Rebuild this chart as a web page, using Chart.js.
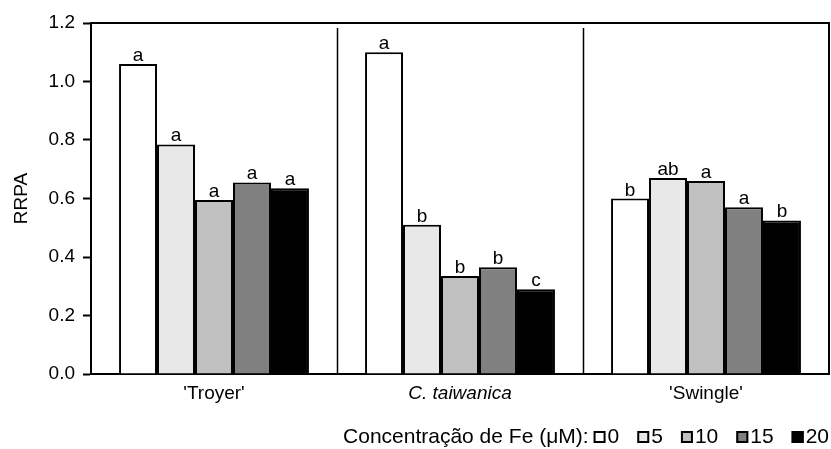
<!DOCTYPE html>
<html>
<head>
<meta charset="utf-8">
<script src="https://cdn.jsdelivr.net/npm/chart.js@4.4.1/dist/chart.umd.min.js"></script>
<style>
  html, body { margin: 0; padding: 0; background: #fff; }
  #wrap { width: 831px; height: 449px; }
</style>
</head>
<body>
<div id="wrap"><canvas id="chart" width="831" height="449"></canvas></div>
<script>
/* ---------- data ---------- */
const CATEGORIES = ["'Troyer'", 'C. taiwanica', "'Swingle'"];
const FE_LEVELS  = ['0', '5', '10', '15', '20'];

const FE_0  = [1.06, 1.10, 0.60];
const FE_5  = [0.785, 0.51, 0.67];
const FE_10 = [0.595, 0.335, 0.66];
const FE_15 = [0.655, 0.365, 0.57];
const FE_20 = [0.635, 0.29, 0.525];

// significance letters, per Fe level, per rootstock
const LET_0  = ['a', 'a', 'b'];
const LET_5  = ['a', 'b', 'ab'];
const LET_10 = ['a', 'b', 'a'];
const LET_15 = ['a', 'b', 'a'];
const LET_20 = ['a', 'c', 'b'];

const Y_TICKS = [0, 0.2, 0.4, 0.6, 0.8, 1.0, 1.2];

const FILLS  = ['#ffffff', '#e8e8e8', '#c0c0c0', '#808080', '#000000'];
const FONT   = "'Liberation Sans', Arial, sans-serif";
const FSIZE  = 19;

const SERIES  = [FE_0, FE_5, FE_10, FE_15, FE_20];
const LETTERS = [LET_0, LET_5, LET_10, LET_15, LET_20];

/* ---------- plugins ---------- */
// box round the plot + separators between rootstocks
const framePlugin = {
  id: 'frame',
  afterDraw(chart) {
    const { ctx, chartArea: a, scales: { x } } = chart;
    ctx.save();
    ctx.strokeStyle = '#000';
    ctx.lineWidth = 2;
    ctx.beginPath();
    ctx.moveTo(a.left, a.top);
    ctx.lineTo(a.right, a.top);
    ctx.lineTo(a.right, a.bottom);
    ctx.stroke();

    ctx.lineWidth = 1.5;
    for (let i = 0; i < CATEGORIES.length - 1; i++) {
      const sx = Math.round((x.getPixelForValue(i) + x.getPixelForValue(i + 1)) / 2) + 0.5;
      ctx.beginPath();
      ctx.moveTo(sx, a.top + 5);
      ctx.lineTo(sx, a.bottom);
      ctx.stroke();
    }
    ctx.restore();
  }
};

// letters above each bar
const lettersPlugin = {
  id: 'letters',
  afterDatasetsDraw(chart) {
    const { ctx } = chart;
    ctx.save();
    ctx.fillStyle = '#000';
    ctx.font = FSIZE + 'px ' + FONT;
    ctx.textAlign = 'center';
    ctx.textBaseline = 'alphabetic';
    chart.data.datasets.forEach((ds, di) => {
      chart.getDatasetMeta(di).data.forEach((bar, i) => {
        ctx.fillText(LETTERS[di][i], bar.x, bar.y - 3);
      });
    });
    ctx.restore();
  }
};

// legend line at the bottom right
const legendPlugin = {
  id: 'feLegend',
  afterDraw(chart) {
    const { ctx, chartArea: a } = chart;
    const title = 'Concentração de Fe (\u03bcM):';
    const box = 12, gapBox = 2, gapItem = 18, y = 437;
    ctx.save();
    ctx.font = '21px ' + FONT;
    ctx.textBaseline = 'middle';
    const tw = ctx.measureText(title).width;
    let total = tw;
    const widths = chart.data.datasets.map(ds => box + gapBox + ctx.measureText(ds.label).width);
    widths.forEach((w, i) => total += (i === 0 ? 5 : gapItem) + w);
    let cx = a.right - total;
    ctx.fillStyle = '#000';
    ctx.fillText(title, cx, y);
    cx += tw;
    chart.data.datasets.forEach((ds, i) => {
      cx += (i === 0 ? 5 : gapItem);
      ctx.fillStyle = ds.backgroundColor;
      ctx.fillRect(cx, y - box / 2, box, box);
      ctx.strokeStyle = '#000';
      ctx.lineWidth = 2;
      ctx.strokeRect(cx + 1, y - box / 2 + 1, box - 2, box - 2);
      ctx.fillStyle = '#000';
      ctx.fillText(ds.label, cx + box + gapBox, y);
      cx += widths[i];
    });
    ctx.restore();
  }
};

/* ---------- chart ---------- */
new Chart(document.getElementById('chart').getContext('2d'), {
  type: 'bar',
  data: {
    labels: CATEGORIES,
    datasets: SERIES.map((vals, i) => ({
      label: FE_LEVELS[i],
      data: vals,
      backgroundColor: FILLS[i],
      borderColor: '#000',
      borderWidth: 2,
      categoryPercentage: 0.772,
      barPercentage: 1.0
    }))
  },
  options: {
    responsive: false,
    animation: false,
    events: [],
    layout: { padding: { top: 23, right: 2, left: 0, bottom: 0 } },
    plugins: { legend: { display: false }, tooltip: { enabled: false } },
    scales: {
      x: {
        grid: { display: false, drawTicks: false },
        border: { display: true, color: '#000', width: 2 },
        ticks: {
          color: '#000',
          padding: 8,
          font: ctx => ({ family: FONT, size: FSIZE, style: ctx.index === 1 ? 'italic' : 'normal' })
        },
        afterFit: s => { s.height = 75; }
      },
      y: {
        min: 0,
        max: 1.2,
        afterBuildTicks: s => { s.ticks = Y_TICKS.map(v => ({ value: v })); },
        grid: { drawOnChartArea: false, drawTicks: true, tickLength: 8, tickColor: '#000', tickWidth: 2 },
        border: { display: true, color: '#000', width: 2 },
        ticks: {
          color: '#000',
          padding: 8,
          font: { family: FONT, size: FSIZE },
          callback: v => Number(v).toFixed(1)
        },
        title: {
          display: true,
          text: 'RRPA',
          color: '#000',
          font: { family: FONT, size: FSIZE },
          padding: { top: 10, bottom: 0 }
        },
        afterFit: s => { s.width = 91; }
      }
    }
  },
  plugins: [framePlugin, lettersPlugin, legendPlugin]
});
</script>
</body>
</html>
